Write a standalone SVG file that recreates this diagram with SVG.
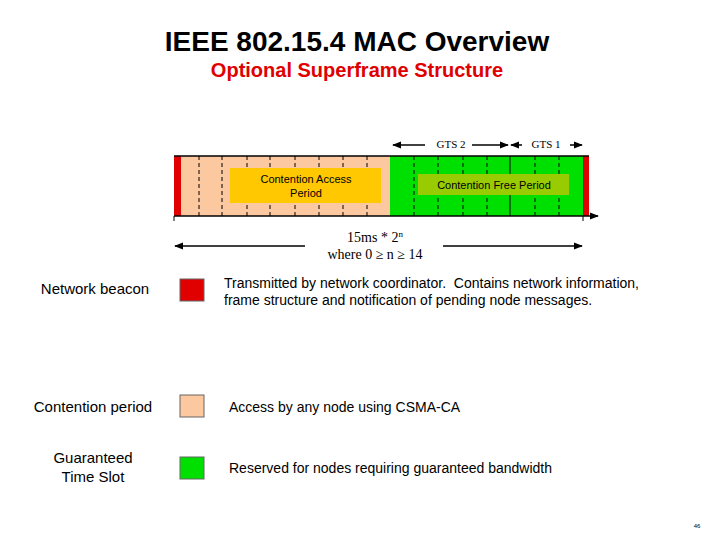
<svg xmlns="http://www.w3.org/2000/svg" width="720" height="540" viewBox="0 0 720 540">
<style>
.s{font-family:"Liberation Sans",Arial,sans-serif;fill:#000}
.t{font-family:"Liberation Serif","Times New Roman",serif;fill:#000}
.d{stroke:#000;stroke-width:1;stroke-dasharray:4,3}
.l{stroke:#000;stroke-width:1.5}
</style>
<defs><marker id="a" viewBox="0 0 10 10" refX="9" refY="5" markerWidth="6" markerHeight="6" orient="auto-start-reverse"><path d="M0,1L10,5L0,9z" fill="#000"/></marker></defs>
<rect width="720" height="540" fill="#fff"/>
<text class="s" x="357" y="51" font-size="28" font-weight="bold" text-anchor="middle">IEEE 802.15.4 MAC Overview</text>
<text class="s" x="357" y="77" font-size="20" font-weight="bold" style="fill:#e00000" text-anchor="middle">Optional Superframe Structure</text>
<g id="superframe">
<rect x="181" y="156" width="209" height="60" fill="#fcc8a0"/>
<rect x="390" y="156" width="193" height="60" fill="#00e000"/>
<rect x="174" y="156" width="7" height="60" fill="#e00000"/>
<rect x="583" y="156" width="6" height="60" fill="#e00000"/>
<g class="d"><path d="M199 156V216M222 156V216M247 156V216M270 156V216M295 156V216M319 156V216M343 156V216M367 156V216M414 156V216M438 156V216M463 156V216M487 156V216M535 156V216M559 156V216"/></g>
<path d="M510 156V216" stroke="#000"/>
<path d="M174 156H589" stroke="#000" stroke-width="1.5"/>
<path d="M174 216H598" class="l" marker-end="url(#a)"/>
<path d="M174 216V221M583 216V221" stroke="#000"/>
</g>
<g id="cap"><rect x="230" y="168" width="151" height="35" fill="#ffc800"/>
<text class="s" x="306" y="183" font-size="11" text-anchor="middle">Contention Access</text>
<text class="s" x="306" y="197" font-size="11" text-anchor="middle">Period</text></g>
<g id="cfp"><rect x="418" y="174" width="151" height="21" fill="#99cc00"/>
<text class="s" x="494" y="189" font-size="11" text-anchor="middle">Contention Free Period</text></g>
<g id="connectors">
<path d="M425 145H393" class="l" marker-end="url(#a)"/>
<path d="M472 145H508" class="l" marker-end="url(#a)"/>
<path d="M522 145H511" class="l" marker-end="url(#a)"/>
<path d="M570 145H582" class="l" marker-end="url(#a)"/>
<path d="M305 246H175" class="l" marker-end="url(#a)"/>
<path d="M443 246H582" class="l" marker-end="url(#a)"/>
</g>
<text class="t" x="451" y="148" font-size="11" text-anchor="middle">GTS 2</text>
<text class="t" x="546" y="148" font-size="11" text-anchor="middle">GTS 1</text>
<text class="t" x="375" y="242" font-size="14" text-anchor="middle">15ms * 2<tspan font-size="9" dy="-5">n</tspan></text>
<text class="t" x="375" y="259" font-size="14" text-anchor="middle">where 0 ≥ n ≥ 14</text>
<g id="legend-beacon"><text class="s" x="95" y="294" font-size="15" text-anchor="middle">Network beacon</text>
<rect x="180" y="279" width="24" height="22" fill="#e00000" stroke="#666"/>
<text class="s" x="224" y="288" font-size="14" xml:space="preserve">Transmitted by network coordinator.  Contains network information,</text>
<text class="s" x="224" y="305" font-size="14">frame structure and notification of pending node messages.</text></g>
<g id="legend-cp"><text class="s" x="93" y="412" font-size="15" text-anchor="middle">Contention period</text>
<rect x="180" y="395" width="24" height="22" fill="#fcc8a0" stroke="#666"/>
<text class="s" x="229" y="412" font-size="14">Access by any node using CSMA-CA</text></g>
<g id="legend-gts"><text class="s" x="93" y="463" font-size="15" text-anchor="middle">Guaranteed</text>
<text class="s" x="93" y="482" font-size="15" text-anchor="middle">Time Slot</text>
<rect x="180" y="457" width="24" height="22" fill="#00e000" stroke="#666"/>
<text class="s" x="229" y="473" font-size="14">Reserved for nodes requiring guaranteed bandwidth</text></g>
<text class="s" x="697" y="528" font-size="6" text-anchor="middle">46</text>
</svg>
